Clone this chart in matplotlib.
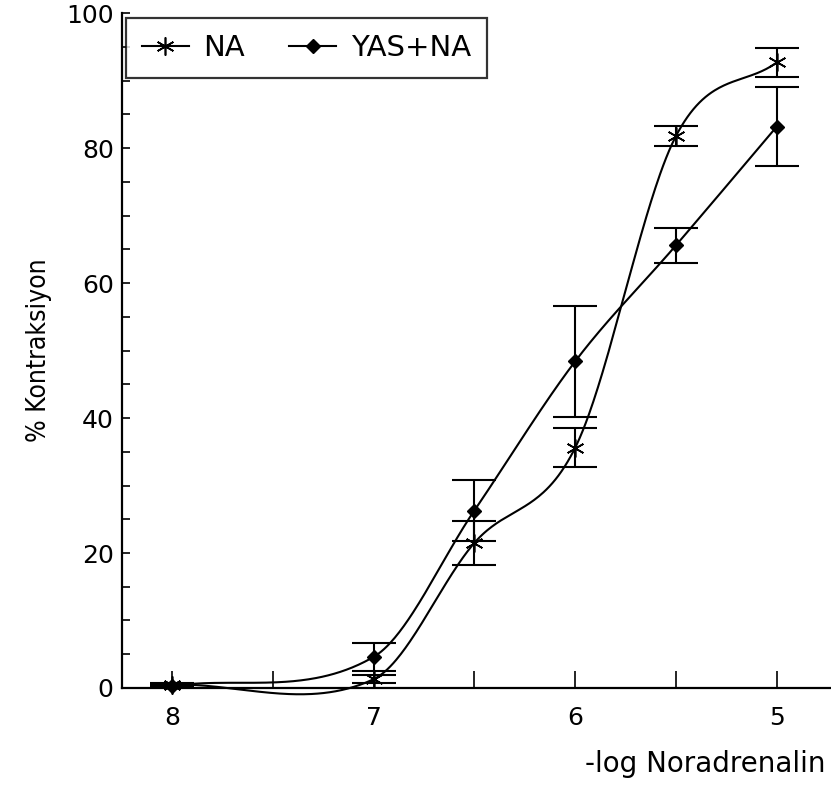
import numpy as np
import matplotlib
matplotlib.use('Agg')
import matplotlib.pyplot as plt
from matplotlib.lines import Line2D

# -log concentration of noradrenaline
dose = [8, 7, 6.5, 6, 5.5, 5]

# % contraction, mean and SEM
na_mean = [0.5, 1.3, 21.5, 35.6, 81.8, 92.7]
na_sem = [0.3, 0.6, 3.3, 2.9, 1.5, 2.2]
yas_mean = [0.3, 4.6, 26.3, 48.4, 65.6, 83.2]
yas_sem = [0.2, 2.1, 4.5, 8.2, 2.6, 5.8]


def smooth_curve(x, y, n=400):
    # cubic Hermite curve through the points, finite-difference tangents
    x = np.asarray(x, float)
    y = np.asarray(y, float)
    order = np.argsort(x)
    x, y = x[order], y[order]
    k = len(x)
    m = np.zeros(k)
    m[0] = (y[1] - y[0]) / (x[1] - x[0])
    m[-1] = (y[-1] - y[-2]) / (x[-1] - x[-2])
    for i in range(1, k - 1):
        m[i] = (y[i + 1] - y[i - 1]) / (x[i + 1] - x[i - 1])
    xs = np.linspace(x[0], x[-1], n)
    j = np.clip(np.searchsorted(x, xs) - 1, 0, k - 2)
    h = x[j + 1] - x[j]
    t = (xs - x[j]) / h
    h00 = 2 * t ** 3 - 3 * t ** 2 + 1
    h10 = t ** 3 - 2 * t ** 2 + t
    h01 = -2 * t ** 3 + 3 * t ** 2
    h11 = t ** 3 - t ** 2
    ys = h00 * y[j] + h10 * h * m[j] + h01 * y[j + 1] + h11 * h * m[j + 1]
    return xs, ys


plt.rcParams['font.family'] = ['DejaVu Sans']

fig = plt.figure(figsize=(8.31, 7.85), dpi=100)
ax = fig.add_axes([0.1468, 0.1236, 0.8532, 0.8596])

lw = 1.5
asterisk = (6, 2, 0)

# NA
xs, ys = smooth_curve(dose, na_mean)
ax.plot(xs, ys, color='black', lw=lw, clip_on=False)
ax.errorbar(dose, na_mean, yerr=na_sem, fmt='none', ecolor='black',
            elinewidth=lw, capsize=16, capthick=lw, clip_on=False)
ax.plot(dose, na_mean, linestyle='none', marker=asterisk, markersize=13,
        markeredgewidth=1.2, color='black', clip_on=False)

# YAS + NA
xs, ys = smooth_curve(dose, yas_mean)
ax.plot(xs, ys, color='black', lw=lw, clip_on=False)
ax.errorbar(dose, yas_mean, yerr=yas_sem, fmt='none', ecolor='black',
            elinewidth=lw, capsize=16, capthick=lw, clip_on=False)
ax.plot(dose, yas_mean, linestyle='none', marker='D', markersize=7,
        color='black', clip_on=False)

ax.set_xlim(8.248, 4.731)
ax.set_ylim(0, 100)

ax.set_xticks([8, 7, 6, 5])
ax.set_xticks([7.5, 6.5, 5.5], minor=True)
ax.set_yticks([0, 20, 40, 60, 80, 100])
ax.set_yticks(np.arange(5, 100, 5), minor=True)

ax.tick_params(axis='x', which='both', direction='in', length=12, width=1.2,
               labelsize=18, pad=13)
ax.tick_params(axis='y', which='both', direction='in', length=6, width=1.2,
               labelsize=18, pad=6)

for side in ['top', 'right']:
    ax.spines[side].set_visible(False)
for side in ['left', 'bottom']:
    ax.spines[side].set_linewidth(1.6)

ax.set_ylabel('% Kontraksiyon', fontsize=19, fontstretch='condensed',
              labelpad=10)
fig.text(0.993, 0.027, '-log Noradrenalin', fontsize=20, ha='right', va='center')

handles = [
    Line2D([], [], color='black', lw=lw, marker=asterisk, markersize=13,
           markeredgewidth=1.2),
    Line2D([], [], color='black', lw=lw, marker='D', markersize=7),
]
leg = ax.legend(handles, ['NA', 'YAS+NA'], loc='upper left', ncol=2,
                fontsize=21, frameon=True, fancybox=False, handlelength=1.6,
                handletextpad=0.5, columnspacing=0.8, borderaxespad=0,
                borderpad=0.55, mode='expand',
                bbox_to_anchor=(0.0056, 0.0, 0.509, 0.9926))
leg.get_frame().set_edgecolor('black')
leg.get_frame().set_linewidth(1.6)

fig.savefig('out.png', dpi=100)
